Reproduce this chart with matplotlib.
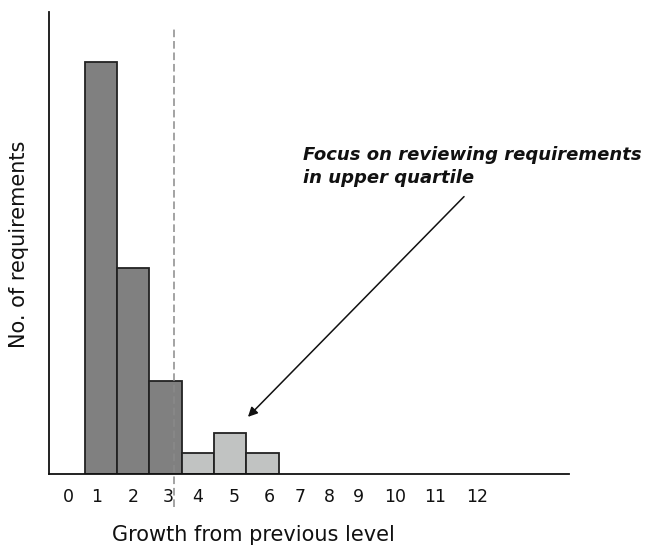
import matplotlib
matplotlib.use("Agg")
import matplotlib.pyplot as plt

# Data
levels = [1, 2, 3, 4, 5, 6]
counts = [20, 10, 4.5, 1, 2, 1]
upper = [False, False, False, True, True, True]
tick_labels = ["0", "1", "2", "3", "4", "5", "6", "7", "8", "9", "10", "11", "12"]
tick_pos = [-0.02, 0.88, 1.99, 3.07, 4.0, 5.12, 6.2, 7.16, 8.06, 8.96, 10.1, 11.34, 12.64]
quartile_x = 3.26
annotation = "Focus on reviewing requirements\nin upper quartile"

plt.rcParams['font.family'] = ['DejaVu Sans']

fig = plt.figure(figsize=(6.46, 5.47), dpi=100)
ax = fig.add_axes([49/646, 73/547, (569-49)/646, (474-12)/547])

colors = ['#c1c3c2' if u else '#808080' for u in upper]
ax.bar(levels, counts, width=1.0, color=colors, edgecolor='#222222', linewidth=1.3, zorder=2)

ax.axvline(quartile_x, ymin=-(507-474)/462, ymax=(474-28)/462, color='#8a8a8a',
           linestyle=(0, (5, 2.5)), linewidth=1.1, zorder=3, clip_on=False)

ax.set_xlim(-0.61, 15.49)
ax.set_ylim(0, 22.4)

for s in ['top', 'right']:
    ax.spines[s].set_visible(False)
for s in ['left', 'bottom']:
    ax.spines[s].set_linewidth(1.3)
    ax.spines[s].set_color('#111111')

ax.set_yticks([])
ax.set_xticks(tick_pos)
ax.set_xticklabels(tick_labels, fontsize=12.5, color='#111111')
ax.tick_params(axis='x', length=0, pad=10)

ax.set_xlabel("Growth from previous level", fontsize=15, va='center', color='#111111')
ax.xaxis.set_label_coords((253-49)/520, -(535-474)/462)
ax.set_ylabel("No. of requirements", fontsize=15, va='center', color='#111111')
ax.yaxis.set_label_coords(-(49-19)/520, (474-244)/462)

ax.text(7.25, (474-183)/20.6, annotation, fontsize=13, fontweight='bold', fontstyle='italic',
        ha='left', va='baseline', linespacing=1.36, color='#111111')
ax.annotate('', xy=(5.55, 2.77), xytext=(12.24, 13.45),
            arrowprops=dict(arrowstyle='-|>', color='#111111', lw=1.1,
                            mutation_scale=14, shrinkA=0, shrinkB=0))

fig.savefig("out.png", dpi=100)
